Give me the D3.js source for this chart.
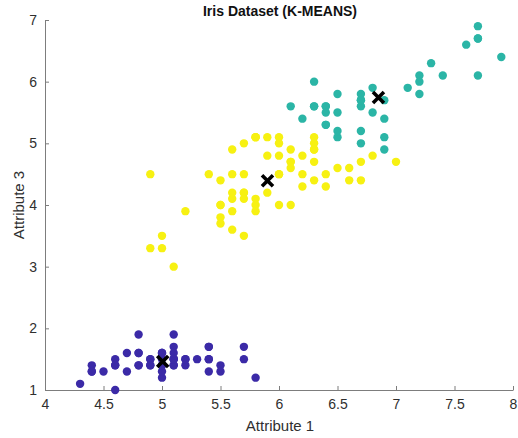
<!DOCTYPE html>
<html>
<head>
<meta charset="utf-8">
<script src="https://cdn.jsdelivr.net/npm/d3@7/dist/d3.min.js"></script>
<style>
  html, body { margin: 0; padding: 0; background: #fff; }
  svg text { font-family: "Liberation Sans", Arial, sans-serif; }
</style>
</head>
<body>
<svg id="chart" width="518" height="438"></svg>
<script>
// Iris: sepal length (attribute 1) vs petal length (attribute 3), k-means k=3

const attr1 = [
  5.1,4.9,4.7,4.6,5.0,5.4,4.6,5.0,4.4,4.9,5.4,4.8,4.8,4.3,5.8,5.7,5.4,5.1,5.7,5.1,
  5.4,5.1,4.6,5.1,4.8,5.0,5.0,5.2,5.2,4.7,4.8,5.4,5.2,5.5,4.9,5.0,5.5,4.9,4.4,5.1,
  5.0,4.5,4.4,5.0,5.1,4.8,5.1,4.6,5.3,5.0,
  7.0,6.4,6.9,5.5,6.5,5.7,6.3,4.9,6.6,5.2,5.0,5.9,6.0,6.1,5.6,6.7,5.6,5.8,6.2,5.6,
  5.9,6.1,6.3,6.1,6.4,6.6,6.8,6.7,6.0,5.7,5.5,5.5,5.8,6.0,5.4,6.0,6.7,6.3,5.6,5.5,
  5.5,6.1,5.8,5.0,5.6,5.7,5.7,6.2,5.1,5.7,
  6.3,5.8,7.1,6.3,6.5,7.6,4.9,7.3,6.7,7.2,6.5,6.4,6.8,5.7,5.8,6.4,6.5,7.7,7.7,6.0,
  6.9,5.6,7.7,6.3,6.7,7.2,6.2,6.1,6.4,7.2,7.4,7.9,6.4,6.3,6.1,7.7,6.3,6.4,6.0,6.9,
  6.7,6.9,5.8,6.8,6.7,6.7,6.3,6.5,6.2,5.9
];

const attr3 = [
  1.4,1.4,1.3,1.5,1.4,1.7,1.4,1.5,1.4,1.5,1.5,1.6,1.4,1.1,1.2,1.5,1.3,1.4,1.7,1.5,
  1.7,1.5,1.0,1.7,1.9,1.6,1.6,1.5,1.4,1.6,1.6,1.5,1.5,1.4,1.5,1.2,1.3,1.4,1.3,1.5,
  1.3,1.3,1.3,1.6,1.9,1.4,1.6,1.4,1.5,1.4,
  4.7,4.5,4.9,4.0,4.6,4.5,4.7,3.3,4.6,3.9,3.5,4.2,4.0,4.7,3.6,4.4,4.5,4.1,4.5,3.9,
  4.8,4.0,4.9,4.7,4.3,4.4,4.8,5.0,4.5,3.5,3.8,3.7,3.9,5.1,4.5,4.5,4.7,4.4,4.1,4.0,
  4.4,4.6,4.0,3.3,4.2,4.2,4.2,4.3,3.0,4.1,
  6.0,5.1,5.9,5.6,5.8,6.6,4.5,6.3,5.8,6.1,5.1,5.3,5.5,5.0,5.1,5.3,5.5,6.7,6.9,5.0,
  5.7,4.9,6.7,4.9,5.7,6.0,4.8,4.9,5.6,5.8,6.1,6.4,5.6,5.1,5.6,6.1,5.6,5.5,4.8,5.4,
  5.6,5.1,5.1,5.9,5.7,5.2,5.0,5.2,5.4,5.1
];

// cluster index per flower: 0 = small, 1 = middle, 2 = large
const cluster = [
  0,0,0,0,0,0,0,0,0,0,0,0,0,0,0,0,0,0,0,0,0,0,0,0,0,0,0,0,0,0,0,0,0,0,0,0,0,0,0,0,
  0,0,0,0,0,0,0,0,0,0,
  1,1,2,1,1,1,1,1,1,1,1,1,1,1,1,1,1,1,1,1,1,1,1,1,1,1,1,2,1,1,1,1,1,1,1,1,1,1,1,1,
  1,1,1,1,1,1,1,1,1,1,
  2,1,2,2,2,2,1,2,2,2,2,2,2,1,1,2,2,2,2,1,2,1,2,1,2,2,1,1,2,2,2,2,2,1,2,2,2,2,1,2,
  2,2,1,2,2,2,1,2,2,1
];

const centroidX = [5.006, 5.9016, 6.85];
const centroidY = [1.462, 4.3934, 5.742];

const clusterColors = ["#3b2aa7", "#f7f112", "#2bb5a6"];
const xTicks = [4, 4.5, 5, 5.5, 6, 6.5, 7, 7.5, 8];
const yTicks = [1, 2, 3, 4, 5, 6, 7];

const svg = d3.select("#chart");
const padL = 45, padR = 513, padT = 20, padB = 390;

const x = d3.scaleLinear().domain([4, 8]).range([padL, padR]);
const y = d3.scaleLinear().domain([1, 7]).range([padB, padT]);

const axisColor = "#7d7d7d", textColor = "#2f2f2f";

// axes, MATLAB style: ticks pointing inward, no box
const xAxis = svg.append("g").attr("transform", `translate(0,${padB})`)
  .call(d3.axisBottom(x).tickValues(xTicks).tickSizeInner(-4).tickSizeOuter(0)
    .tickPadding(9).tickFormat(d3.format("")));
const yAxis = svg.append("g").attr("transform", `translate(${padL},0)`)
  .call(d3.axisLeft(y).tickValues(yTicks).tickSizeInner(-4).tickSizeOuter(0)
    .tickPadding(8).tickFormat(d3.format("")));

[xAxis, yAxis].forEach((a) => {
  a.select(".domain").attr("stroke", axisColor).attr("stroke-width", 1);
  a.selectAll(".tick line").attr("stroke", axisColor);
  a.selectAll(".tick text").attr("fill", textColor)
    .style("font-size", "14px").style("font-family", "'Liberation Sans', Arial, sans-serif");
});

// points
const pts = d3.range(attr1.length);
svg.append("g").selectAll("circle")
  .data(pts).enter().append("circle")
  .attr("cx", (i) => x(attr1[i]))
  .attr("cy", (i) => y(attr3[i]))
  .attr("r", 4.2)
  .attr("fill", (i) => clusterColors[cluster[i]]);

// centroids
const cs = 5.5;
const cg = svg.append("g").selectAll("g").data(centroidX).enter().append("g")
  .attr("transform", (d, i) => `translate(${x(d)},${y(centroidY[i])})`);
cg.append("path")
  .attr("d", `M${-cs},${-cs}L${cs},${cs}M${-cs},${cs}L${cs},${-cs}`)
  .attr("stroke", "#000").attr("stroke-width", 3.6).attr("stroke-linecap", "butt");

// labels
svg.append("text").attr("x", 280).attr("y", 16).attr("text-anchor", "middle")
  .style("font-size", "14px").style("font-weight", "bold").attr("fill", "#111")
  .text("Iris Dataset (K-MEANS)");

svg.append("text").attr("x", 280).attr("y", 431).attr("text-anchor", "middle")
  .style("font-size", "15px").attr("fill", textColor)
  .text("Attribute 1");

svg.append("text").attr("transform", `translate(24,${(padT + padB) / 2}) rotate(-90)`)
  .attr("text-anchor", "middle")
  .style("font-size", "15px").attr("fill", textColor)
  .text("Attribute 3");
</script>
</body>
</html>
